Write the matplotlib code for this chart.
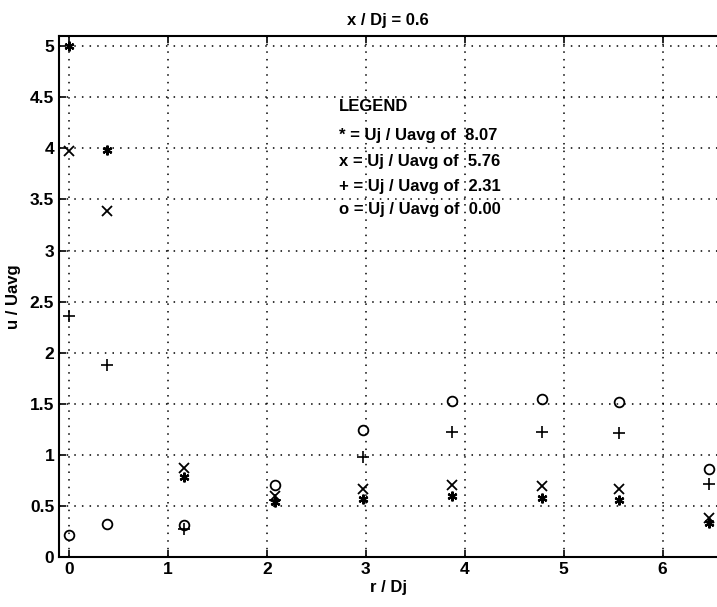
import numpy as np
import matplotlib.pyplot as plt

plt.rcParams['font.family'] = ['Liberation Sans', 'DejaVu Sans']
plt.rcParams['font.weight'] = 'bold'

r = [0.0, 0.38, 1.16, 2.08, 2.97, 3.87, 4.78, 5.56, 6.47]
u_807 = [5.00, 3.98, 0.78, 0.54, 0.57, 0.60, 0.58, 0.56, 0.33]
u_576 = [3.97, 3.39, 0.87, 0.60, 0.67, 0.70, 0.69, 0.67, 0.38]
u_231 = [2.36, 1.88, 0.27, 0.56, 0.98, 1.22, 1.22, 1.21, 0.71]
u_000 = [0.22, 0.32, 0.31, 0.70, 1.24, 1.53, 1.55, 1.52, 0.86]

legend_lines = ['LEGEND',
                '* = Uj / Uavg of  8.07',
                'x = Uj / Uavg of  5.76',
                '+ = Uj / Uavg of  2.31',
                'o = Uj / Uavg of  0.00']

fig = plt.figure(figsize=(7.17, 6.07), dpi=100)
ax = fig.add_axes([0.0823, 0.0824, 0.9177, 0.8583])

ms = 7
ax.plot(r, u_807, linestyle='none', marker=(6, 2, 0), color='k', markersize=ms, mew=1.6)
ax.plot(r, u_576, linestyle='none', marker='x', color='k', markersize=ms, mew=1.3)
ax.plot(r, u_231, linestyle='none', marker='+', color='k', markersize=ms + 1, mew=1.2)
ax.plot(r, u_000, linestyle='none', marker='o', mfc='none', color='k', markersize=ms, mew=1.3)

ax.set_xlim(-0.1, 6.55)
ax.set_ylim(0, 5.1)
ax.set_xticks(range(0, 7))
ax.set_yticks(np.arange(0, 5.01, 0.5))
ax.set_yticklabels(['0', '0.5', '1', '1.5', '2', '2.5', '3', '3.5', '4', '4.5', '5'])
ax.tick_params(direction='in', top=True, right=False, labelsize=12.5, length=5, width=1.2)
ax.grid(True, linestyle=(0, (1, 4)), color='k', linewidth=1.1)
for s in ax.spines.values():
    s.set_linewidth(1.5)
ax.spines['right'].set_visible(False)

ax.set_xlabel('r / Dj', fontsize=12, fontweight='bold', labelpad=2)
ax.set_ylabel('u / Uavg', fontsize=12, fontweight='bold', labelpad=6)
ax.set_title('x / Dj = 0.6', fontsize=12, fontweight='bold', pad=8)

ys = [4.41, 4.13, 3.87, 3.63, 3.40]
for t, yv in zip(legend_lines, ys):
    ax.text(2.73, yv, t, fontsize=12, fontweight='bold', va='center', ha='left')

fig.savefig('out.png', dpi=100)
